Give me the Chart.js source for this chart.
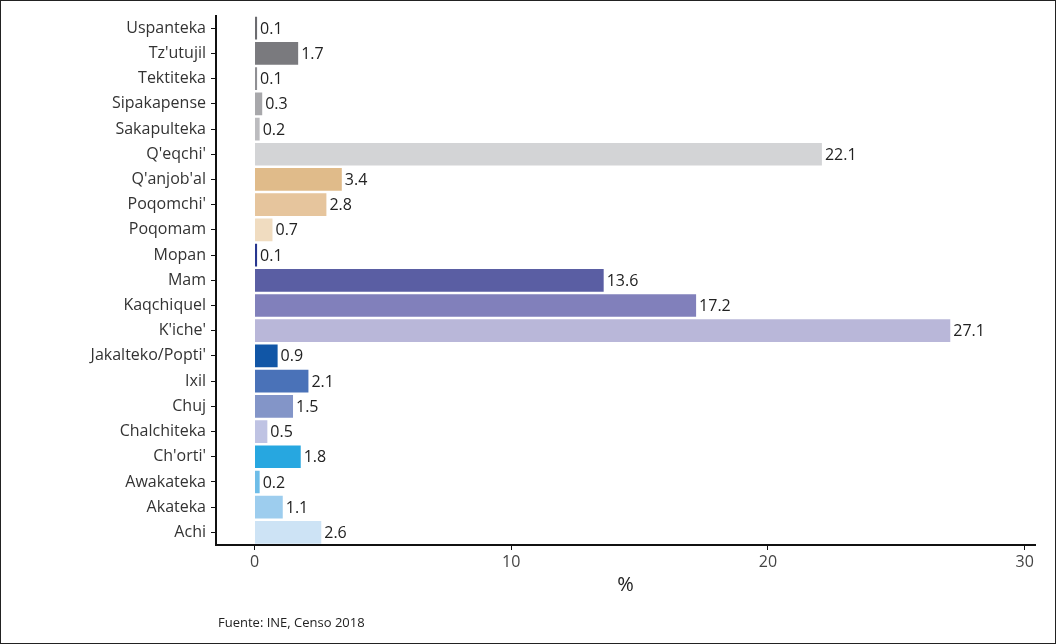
<!DOCTYPE html>
<html>
<head>
<meta charset="utf-8">
<script src="https://cdn.jsdelivr.net/npm/chart.js@4"></script>
<style>
  html, body { margin: 0; padding: 0; background: #fff; }
  .frame {
    position: relative; width: 1056px; height: 644px;
    box-sizing: border-box; border: 1px solid #222; overflow: hidden;
  }
  canvas { position: absolute; left: 0; top: 0; }
  .source {
    position: absolute; left: 217px; top: 612px;
    font-family: 'Open Sans', sans-serif; font-size: 13px; color: #222;
  }
</style>
</head>
<body>
<div class="frame">
  <canvas id="chart" width="1056" height="644"></canvas>
  <div class="source">Fuente: INE, Censo 2018</div>
</div>
<script>
// Datos: porcentaje de población por comunidad lingüística maya
const languages = [
    'Uspanteka', "Tz'utujil", 'Tektiteka', 'Sipakapense', 'Sakapulteka', "Q'eqchi'",
    "Q'anjob'al", "Poqomchi'", 'Poqomam', 'Mopan', 'Mam', 'Kaqchiquel', "K'iche'",
    "Jakalteko/Popti'", 'Ixil', 'Chuj', 'Chalchiteka', "Ch'orti'", 'Awakateka', 'Akateka', 'Achi'
];
const percents = [
    0.1, 1.7, 0.1, 0.3, 0.2, 22.1,
    3.4, 2.8, 0.7, 0.1, 13.6, 17.2, 27.1,
    0.9, 2.1, 1.5, 0.5, 1.8, 0.2, 1.1, 2.6
];
const barColors = [
    '#6b6b6f', '#7a7a7e', '#8f8f93', '#a8a8ab', '#bcbcbf', '#d3d4d6',
    '#e0bb8a', '#e6c59d', '#f0dcc0', '#27368f', '#5a5ea3', '#8180bb', '#b9b7d9',
    '#1156a6', '#4a72b8', '#8395c8', '#bfc3e3', '#27a7e0', '#6ebde8', '#9dcdee', '#cde3f5'
];
const xTicks = [0, 10, 20, 30];

const FONT = "'Open Sans', sans-serif";

// etiqueta de valor al final de cada barra
const valueLabels = {
    id: 'valueLabels',
    afterDatasetsDraw(chart) {
        const ctx = chart.ctx;
        const meta = chart.getDatasetMeta(0);
        ctx.save();
        ctx.font = `16px ${FONT}`;
        ctx.fillStyle = '#222';
        ctx.textAlign = 'left';
        ctx.textBaseline = 'middle';
        meta.data.forEach((bar, i) => {
            ctx.fillText(String(percents[i]), bar.x + 3, bar.y + 1);
        });
        ctx.restore();
    }
};

new Chart(document.getElementById('chart'), {
    type: 'bar',
    data: {
        labels: languages,
        datasets: [{
            data: percents,
            backgroundColor: barColors,
            borderWidth: 0,
            barPercentage: 0.9,
            categoryPercentage: 1
        }]
    },
    options: {
        indexAxis: 'y',
        responsive: false,
        animation: false,
        layout: { padding: { top: 10, right: 22, left: 0, bottom: 44 } },
        plugins: {
            legend: { display: false },
            tooltip: { enabled: false }
        },
        scales: {
            x: {
                min: -1.5,
                max: 30.4,
                afterBuildTicks: (scale) => { scale.ticks = xTicks.map(v => ({ value: v })); },
                afterFit: (scale) => { scale.height = 56; },
                grid: { drawOnChartArea: false, drawTicks: true, tickLength: 5, color: '#111' },
                border: { color: '#111', width: 2 },
                ticks: { font: { family: FONT, size: 16 }, color: '#444', padding: 3 },
                title: { display: true, text: '%', font: { family: FONT, size: 20 }, color: '#222', padding: { top: 2 } }
            },
            y: {
                afterFit: (scale) => { scale.width = 215; },
                grid: { offset: false, drawOnChartArea: false, drawTicks: true, tickLength: 5, color: '#111' },
                border: { color: '#111', width: 2 },
                ticks: { font: { family: FONT, size: 16 }, color: '#333', padding: 5 }
            }
        }
    },
    plugins: [valueLabels]
});
</script>
</body>
</html>
